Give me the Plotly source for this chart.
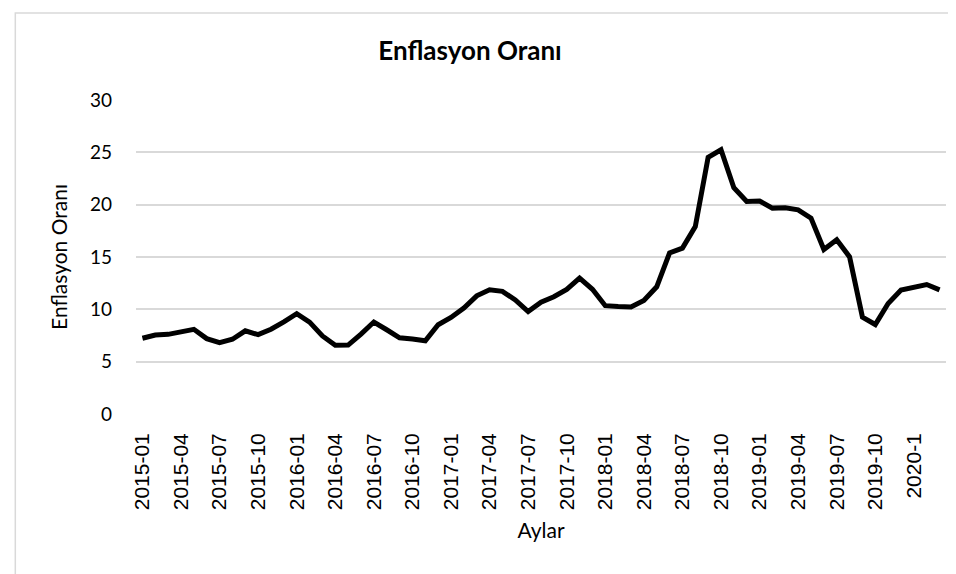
import plotly.graph_objects as go

# monthly inflation rate (%)
months = [
    "2015-01", "2015-02", "2015-03", "2015-04", "2015-05", "2015-06",
    "2015-07", "2015-08", "2015-09", "2015-10", "2015-11", "2015-12",
    "2016-01", "2016-02", "2016-03", "2016-04", "2016-05", "2016-06",
    "2016-07", "2016-08", "2016-09", "2016-10", "2016-11", "2016-12",
    "2017-01", "2017-02", "2017-03", "2017-04", "2017-05", "2017-06",
    "2017-07", "2017-08", "2017-09", "2017-10", "2017-11", "2017-12",
    "2018-01", "2018-02", "2018-03", "2018-04", "2018-05", "2018-06",
    "2018-07", "2018-08", "2018-09", "2018-10", "2018-11", "2018-12",
    "2019-01", "2019-02", "2019-03", "2019-04", "2019-05", "2019-06",
    "2019-07", "2019-08", "2019-09", "2019-10", "2019-11", "2019-12",
    "2020-1", "2020-2", "2020-3",
]
inflation = [
    7.24, 7.55, 7.61, 7.91, 8.09, 7.20, 6.81, 7.14, 7.95, 7.58, 8.10, 8.81,
    9.58, 8.78, 7.46, 6.57, 6.58, 7.64, 8.79, 8.05, 7.28, 7.16, 7.00, 8.53,
    9.22, 10.13, 11.29, 11.87, 11.72, 10.90, 9.79, 10.68, 11.20, 11.90, 12.98, 11.92,
    10.35, 10.26, 10.23, 10.85, 12.15, 15.39, 15.85, 17.90, 24.52, 25.24, 21.62, 20.30,
    20.35, 19.67, 19.71, 19.50, 18.71, 15.72, 16.65, 15.01, 9.26, 8.55, 10.56, 11.84,
    12.15, 12.37, 11.86,
]
tick_labels = months[::3]
y_ticks = [0, 5, 10, 15, 20, 25, 30]

fig = go.Figure()
fig.add_trace(go.Scatter(x=months, y=inflation, mode="lines",
                         line=dict(color="black", width=5), showlegend=False))

fig.update_layout(
    width=956, height=574,
    margin=dict(l=128, r=18, t=92, b=168),
    paper_bgcolor="white", plot_bgcolor="white",
    font=dict(family="Lato", color="black", size=19),
    title=dict(text="<b>Enflasyon Oranı</b>", x=462 / 956, xanchor="center",
               y=1 - 43 / 574, yanchor="middle",
               font=dict(family="Lato", size=26, color="black")),
    xaxis=dict(type="category", range=[-0.5, len(months) - 0.5],
               tickmode="array", tickvals=tick_labels, ticktext=tick_labels,
               tickangle=-90, showgrid=False, showline=False, zeroline=False,
               ticklabelstandoff=14,
               tickfont=dict(family="Liberation Sans", size=21),
               title=dict(text="Aylar", standoff=14, font=dict(family="Lato", size=21))),
    yaxis=dict(range=[0, 30], tickvals=y_ticks, showgrid=True,
               gridcolor="#d9d9d9", gridwidth=1.5, zeroline=False, showline=False,
               ticklabelstandoff=23, tickfont=dict(family="Lato", size=19),
               title=dict(text="Enflasyon Oranı", standoff=16,
                          font=dict(family="Lato", size=21))),
    shapes=[dict(type="rect", xref="paper", yref="paper",
                 x0=-0.149, x1=1.1, y0=-0.6, y1=1.277,
                 line=dict(color="#d9d9d9", width=1.5), fillcolor="rgba(0,0,0,0)",
                 layer="below")],
)

fig.write_html("out.html")
